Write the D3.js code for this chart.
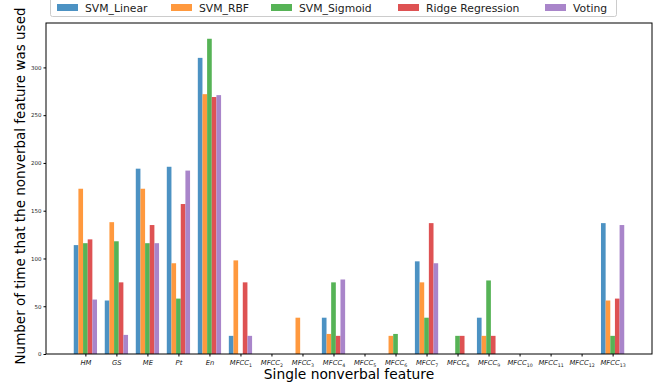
<html>
  <head>
    <meta charset="utf-8" />
    <title>Nonverbal feature usage</title>
    <style>
      body { margin: 0; background: #fff; }
      text { font-family: "DejaVu Sans", sans-serif; }
    </style>
  </head>
  <body>
    <script src="https://cdnjs.cloudflare.com/ajax/libs/d3/7.8.5/d3.min.js"></script>
    <script>
      // feature names: [base, subscript]
      const features = [
        ["HM", ""], ["GS", ""], ["ME", ""], ["Pt", ""], ["En", ""],
        ["MFCC", "1"], ["MFCC", "2"], ["MFCC", "3"], ["MFCC", "4"], ["MFCC", "5"],
        ["MFCC", "6"], ["MFCC", "7"], ["MFCC", "8"], ["MFCC", "9"], ["MFCC", "10"],
        ["MFCC", "11"], ["MFCC", "12"], ["MFCC", "13"]
      ];
      const seriesNames = ["SVM_Linear", "SVM_RBF", "SVM_Sigmoid", "Ridge Regression", "Voting"];
      const svmLinear = [114, 56, 194, 196, 310, 19, 0, 0, 38, 0, 0, 97, 0, 38, 0, 0, 0, 137];
      const svmRbf    = [173, 138, 173, 95, 272, 98, 0, 38, 21, 0, 19, 75, 0, 19, 0, 0, 0, 56];
      const svmSigm   = [116, 118, 116, 58, 330, 0, 0, 0, 75, 0, 21, 38, 19, 77, 0, 0, 0, 19];
      const ridge     = [120, 75, 135, 157, 269, 75, 0, 0, 19, 0, 0, 137, 19, 19, 0, 0, 0, 58];
      const voting    = [57, 20, 116, 192, 271, 19, 0, 0, 78, 0, 0, 95, 0, 0, 0, 0, 0, 135];
      const yTicks = [0, 50, 100, 150, 200, 250, 300];
      const colors = ["#4c92c3", "#ff993e", "#56b356", "#de5253", "#a985ca"];

      const allSeries = [svmLinear, svmRbf, svmSigm, ridge, voting];

      const width = 659, height = 384;
      const plotL = 46, plotR = 652, plotT = 23, plotB = 354;
      const barW = 0.15;

      const svg = d3.select("body").append("svg")
        .attr("width", width).attr("height", height);

      const x = d3.scaleLinear()
        .domain([-1.27, features.length - 1 + 1.27])
        .range([plotL, plotR]);
      const y = d3.scaleLinear()
        .domain([0, 330 * 1.05])
        .range([plotB, plotT]);

      // bars
      allSeries.forEach(function(vals, s) {
        svg.append("g").selectAll("rect")
          .data(vals)
          .join("rect")
          .attr("x", (d, i) => x(i + (s - 2.5) * barW))
          .attr("width", x(barW) - x(0))
          .attr("y", d => y(d))
          .attr("height", d => y(0) - y(d))
          .attr("fill", colors[s]);
      });

      // y axis
      const yAxis = svg.append("g")
        .attr("transform", "translate(" + plotL + ",0)")
        .call(d3.axisLeft(y).tickValues(yTicks).tickSize(2.5).tickPadding(2));
      yAxis.select(".domain").remove();
      yAxis.selectAll("text").style("font-size", "5.5px").attr("fill", "#222");

      // x axis
      const xAxis = svg.append("g")
        .attr("transform", "translate(0," + plotB + ")")
        .call(d3.axisBottom(x).tickValues(d3.range(features.length)).tickSize(2.5).tickFormat(""));
      xAxis.select(".domain").remove();
      xAxis.selectAll(".tick").each(function(d) {
        const t = d3.select(this).append("text")
          .attr("y", 11)
          .attr("text-anchor", "middle")
          .attr("fill", "#222")
          .style("font-size", "6.8px")
          .style("font-style", "italic");
        t.append("tspan").text(features[d][0]);
        if (features[d][1]) {
          t.append("tspan")
            .attr("dy", 1.5)
            .style("font-size", "4.7px")
            .style("font-style", "normal")
            .text(features[d][1]);
        }
      });

      // frame
      svg.append("rect")
        .attr("x", plotL).attr("y", plotT)
        .attr("width", plotR - plotL).attr("height", plotB - plotT)
        .attr("fill", "none").attr("stroke", "#000").attr("stroke-width", 1);

      // axis labels
      svg.append("text")
        .attr("transform", "translate(25,186) rotate(-90)")
        .attr("text-anchor", "middle")
        .style("font-size", "13.5px")
        .text("Number of time that the nonverbal feature was used");
      svg.append("text")
        .attr("x", 349)
        .attr("y", 379)
        .attr("text-anchor", "middle")
        .style("font-size", "13.8px")
        .text("Single nonverbal feature");

      // legend
      const legendX = [57, 171, 271, 398, 545];
      const legend = svg.append("g");
      legend.append("rect")
        .attr("x", 50.5).attr("y", -4.5)
        .attr("width", 566).attr("height", 21)
        .attr("rx", 2)
        .attr("fill", "#fff").attr("stroke", "#ccc");
      seriesNames.forEach(function(name, s) {
        legend.append("rect")
          .attr("x", legendX[s]).attr("y", 4)
          .attr("width", 21).attr("height", 7)
          .attr("fill", colors[s]);
        legend.append("text")
          .attr("x", legendX[s] + 28).attr("y", 11.5)
          .style("font-size", "10.8px")
          .attr("fill", "#222")
          .text(name);
      });
    </script>
  </body>
</html>
